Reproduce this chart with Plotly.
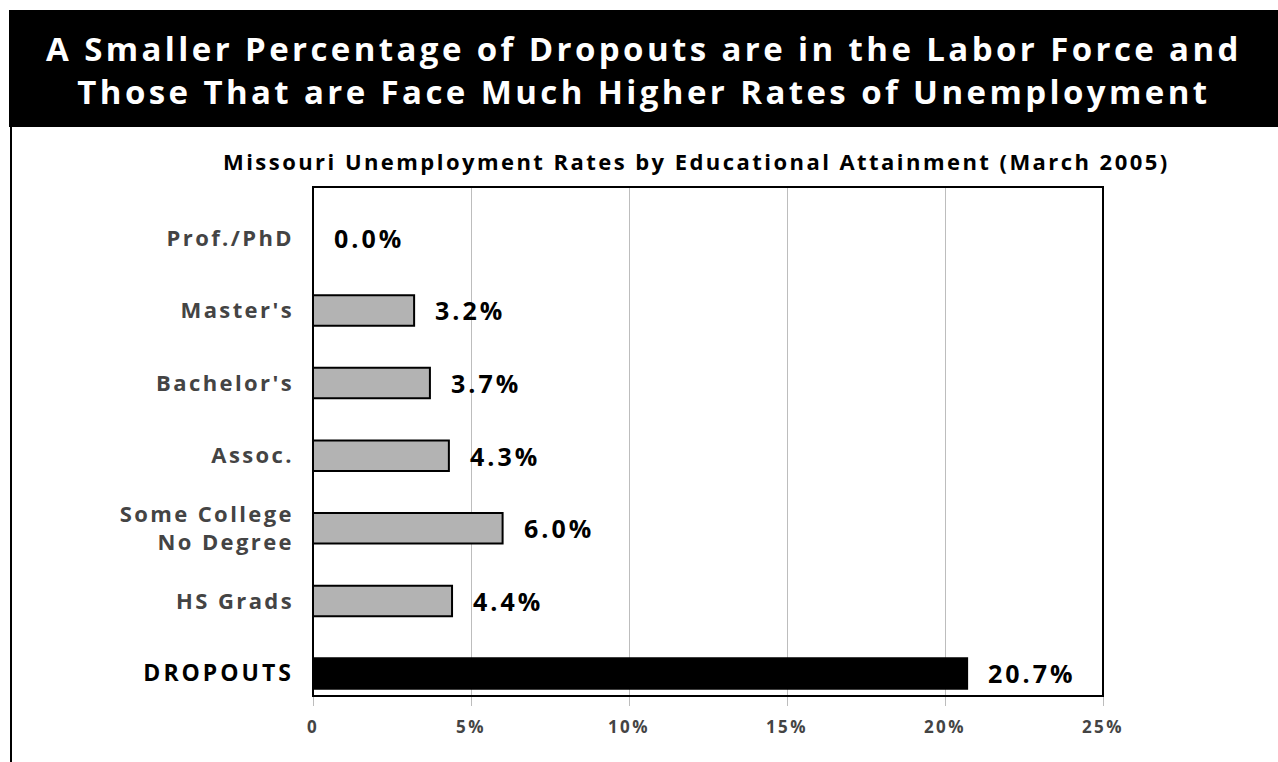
import plotly.graph_objects as go

# ---------------- data ----------------
categories = ["DROPOUTS", "HS Grads", "Some College<br>No Degree", "Assoc.",
              "Bachelor's", "Master's", "Prof./PhD"]
rates = [20.7, 4.4, 6.0, 4.3, 3.7, 3.2, 0.0]
value_labels = ["20.7%", "4.4%", "6.0%", "4.3%", "3.7%", "3.2%", "0.0%"]
x_tick_vals = [0, 5, 10, 15, 20, 25]
x_tick_text = ["0", "5%", "10%", "15%", "20%", "25%"]

title_line1 = "A Smaller Percentage of Dropouts are in the Labor Force and"
title_line2 = "Those That are Face Much Higher Rates of Unemployment"
subtitle = "Missouri Unemployment Rates by Educational Attainment (March 2005)"

# ---------------- layout geometry (pixels) ----------------
W, H = 1278, 762
PL, PR, PT, PB = 313, 1103, 187, 696  # plot area


def px(x):
    return (x - PL) / (PR - PL)


def py(y):
    return (PB - y) / (PB - PT)


FONT = "Open Sans"


def styled(text, spacing, color=None, size=None):
    parts = []
    for line in text.split("<br>"):
        st = "letter-spacing:%spx" % spacing
        if color:
            st += ";fill:%s" % color
        if size:
            st += ";font-size:%spx" % size
        parts.append('<b><span style="%s">%s</span></b>' % (st, line))
    return "<br>".join(parts)


bar_colors = ["#000000"] + ["#b3b3b3"] * (len(categories) - 1)

tick_text = []
for c in categories:
    if c == "DROPOUTS":
        tick_text.append(styled(c, 3.0, color="#000000", size=23))
    else:
        tick_text.append(styled(c, 2.4))

fig = go.Figure()
fig.add_trace(go.Bar(
    y=list(range(len(categories))),
    x=rates,
    orientation="h",
    width=0.42,
    marker=dict(color=bar_colors, line=dict(color="#000000", width=2)),
    hoverinfo="skip",
))

annotations = []
for i, (v, t) in enumerate(zip(rates, value_labels)):
    annotations.append(dict(
        x=v, y=i, xref="x", yref="y", text=styled(t, 3), showarrow=False,
        xanchor="left", yanchor="middle", xshift=19,
        font=dict(family=FONT, size=25, color="#000000"),
    ))

annotations += [
    dict(x=px(W / 2 + 5), y=py(70), xref="paper", yref="paper",
         text=styled(title_line1 + "<br>" + title_line2, 3.4), showarrow=False,
         xanchor="center", yanchor="middle",
         font=dict(family=FONT, size=33, color="#ffffff")),
    dict(x=px(696), y=py(161), xref="paper", yref="paper",
         text=styled(subtitle, 2.45), showarrow=False,
         xanchor="center", yanchor="middle",
         font=dict(family=FONT, size=22, color="#000000")),
]

shapes = [
    # black title banner
    dict(type="rect", xref="paper", yref="paper",
         x0=px(9), x1=px(W + 5), y0=py(127), y1=py(10),
         fillcolor="#000000", line=dict(width=0), layer="below"),
    # left frame line
    dict(type="line", xref="paper", yref="paper",
         x0=px(11), x1=px(11), y0=py(127), y1=py(H + 5),
         line=dict(color="#000000", width=2)),
    # plot border
    dict(type="rect", xref="paper", yref="paper",
         x0=0, x1=1, y0=0, y1=1,
         line=dict(color="#000000", width=2)),
]

fig.update_layout(
    width=W, height=H,
    margin=dict(l=PL, r=W - PR, t=PT, b=H - PB, pad=0),
    paper_bgcolor="#ffffff", plot_bgcolor="#ffffff",
    showlegend=False,
    annotations=annotations,
    shapes=shapes,
    xaxis=dict(
        range=[0, 25], tickvals=x_tick_vals,
        ticktext=[styled(t, 2.5) for t in x_tick_text],
        showgrid=True, gridcolor="#bdbdbd", gridwidth=1,
        ticks="outside", ticklen=9, tickcolor="#bdbdbd", tickwidth=1,
        ticklabelstandoff=7,
        tickfont=dict(family=FONT, size=17, color="#444444"),
        zeroline=False, showline=False, fixedrange=True,
    ),
    yaxis=dict(
        range=[-0.31, 6.70], tickvals=list(range(len(categories))),
        ticktext=tick_text,
        showgrid=False, zeroline=False, showline=False,
        ticks="", ticklabelstandoff=18,
        tickfont=dict(family=FONT, size=22, color="#444444"),
        fixedrange=True,
    ),
)

fig.write_html("out.html", config={"displayModeBar": False})
